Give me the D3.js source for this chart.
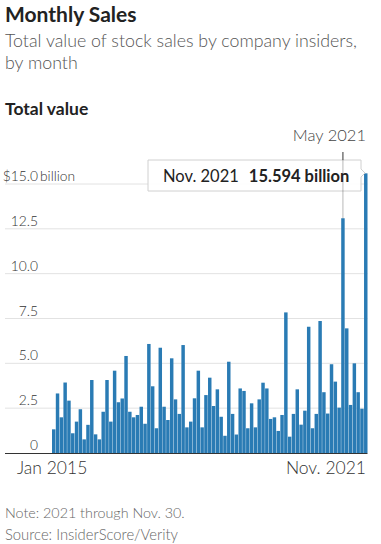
<!DOCTYPE html>
<html><head><meta charset="utf-8">
<script src="https://cdn.jsdelivr.net/npm/d3@7"></script>
<style>
html,body{margin:0;padding:0;background:#fff;}
svg{display:block;font-family:Lato,"Noto Sans",sans-serif;}
</style></head>
<body><svg id="c" width="381" height="544"></svg>
<script>
// Monthly totals, billions of dollars, Jan 2015 .. Nov 2021
const startYear = 2015;
const values = [
 1.32,3.32,1.99,3.93,2.92,1.10,1.75,2.44,0.76,1.57,4.07,1.04,
 0.76,2.30,4.07,1.75,4.59,2.83,3.04,5.41,2.30,1.99,2.12,2.58,
 1.63,6.08,3.72,1.38,5.87,2.58,1.84,5.28,2.99,2.18,6.02,1.43,
 1.75,3.05,4.59,1.43,3.23,4.20,2.62,3.55,2.02,0.96,5.09,2.18,
 1.03,3.60,3.46,1.38,2.77,1.43,2.99,3.92,3.60,1.90,1.99,1.23,
 2.12,7.84,0.91,2.18,3.55,1.58,2.36,7.04,1.38,2.18,7.36,3.39,
 2.20,4.95,3.98,2.53,13.09,6.95,2.68,5.00,3.39,2.47,15.594
];
const months = values.map((v,i)=> (startYear + Math.floor(i/12)) + "-" + String(i%12+1).padStart(2,"0"));
const yTicks = [0, 2.5, 5, 7.5, 10, 12.5, 15];
const xLabels = ["Jan 2015", "Nov. 2021"];
const annotMonth = "2021-05";
const annotLabel = "May 2021";
const tipMonth = "Nov. 2021";
const tipValue = "15.594 billion";

const svg = d3.select("#c");
const x = d3.scaleBand().domain(months).range([52, 367.5]).paddingInner(0.09).paddingOuter(0);
const y = d3.scaleLinear().domain([0, 15]).range([453, 184]);

// titles
svg.append("text").attr("x",5).attr("y",22).attr("font-size",21).attr("font-weight",700).attr("fill","#222").text("Monthly Sales");
svg.append("text").attr("x",5).attr("y",47).attr("font-size",17.8).attr("font-weight",300).attr("fill","#555").text("Total value of stock sales by company insiders,");
svg.append("text").attr("x",5).attr("y",69).attr("font-size",17.8).attr("font-weight",300).attr("fill","#555").text("by month");
svg.append("text").attr("x",5).attr("y",115).attr("font-size",17.5).attr("font-weight",700).attr("fill","#222").text("Total value");

// gridlines
svg.append("g").selectAll("line").data(yTicks.filter(d=>d>0)).join("line")
  .attr("x1",5).attr("x2",367.5).attr("y1",d=>y(d)).attr("y2",d=>y(d))
  .attr("stroke","#e2e2e2").attr("stroke-width",1);

// tick labels
const fmt = d3.format(".1f");
svg.append("g").selectAll("text").data(yTicks).join("text")
  .attr("x",38).attr("y",d=>y(d)-3).attr("text-anchor","end")
  .attr("font-size",13.8).attr("font-weight",300).attr("fill","#333")
  .text(d=> d===0 ? "0" : (d===15 ? "$" : "") + fmt(d));
svg.append("text").attr("x",40).attr("y",y(15)-3).attr("font-size",13.8).attr("font-weight",300).attr("fill","#333").text("billion");

// bars
svg.append("g").selectAll("rect").data(values).join("rect")
  .attr("x",(d,i)=>x(months[i])).attr("width",x.bandwidth())
  .attr("y",d=>y(d)).attr("height",d=>y(0)-y(d))
  .attr("fill","#2a7bb4");

// axis line
svg.append("line").attr("x1",5).attr("x2",367.5).attr("y1",y(0)+0.5).attr("y2",y(0)+0.5).attr("stroke","#333").attr("stroke-width",1.2);

// x labels
svg.append("text").attr("x",17).attr("y",474).attr("font-size",17.5).attr("font-weight",300).attr("fill","#333").text(xLabels[0]);
svg.append("text").attr("x",366).attr("y",474).attr("text-anchor","end").attr("font-size",17.5).attr("font-weight",300).attr("fill","#333").text(xLabels[1]);

// tooltip box
const bx0 = 148, bx1 = 361, by0 = 160, by1 = 191;
svg.append("path")
  .attr("d",`M${bx0},${by0}H${bx1}V${by0+9}L${bx1+4},${by0+13}L${bx1},${by0+17}V${by1}H${bx0}Z`)
  .attr("fill","rgba(255,255,255,0.88)").attr("stroke","#d0d0d0").attr("stroke-width",1);

// annotation line for May 2021
const mi = months.indexOf(annotMonth);
const ax = x(annotMonth) + x.bandwidth()/2;
svg.append("line").attr("x1",ax).attr("x2",ax).attr("y1",152).attr("y2",by0).attr("stroke","#333").attr("stroke-width",1);
svg.append("line").attr("x1",ax).attr("x2",ax).attr("y1",by0).attr("y2",y(values[mi])).attr("stroke","#333").attr("stroke-opacity",0.35).attr("stroke-width",1);
svg.append("text").attr("x",366).attr("y",141).attr("text-anchor","end").attr("font-size",16.5).attr("font-weight",300).attr("fill","#444").text(annotLabel);

const tt = svg.append("text").attr("x",163).attr("y",182).attr("font-size",16.5).attr("fill","#222");
tt.append("tspan").attr("font-weight",400).text(tipMonth);
tt.append("tspan").attr("dx",10).attr("font-weight",700).text(tipValue);

// notes
svg.append("text").attr("x",5).attr("y",518).attr("font-size",14.3).attr("font-weight",300).attr("fill","#666").text("Note: 2021 through Nov. 30.");
svg.append("text").attr("x",5).attr("y",540).attr("font-size",14.8).attr("font-weight",300).attr("fill","#666").text("Source: InsiderScore/Verity");
</script></body></html>
